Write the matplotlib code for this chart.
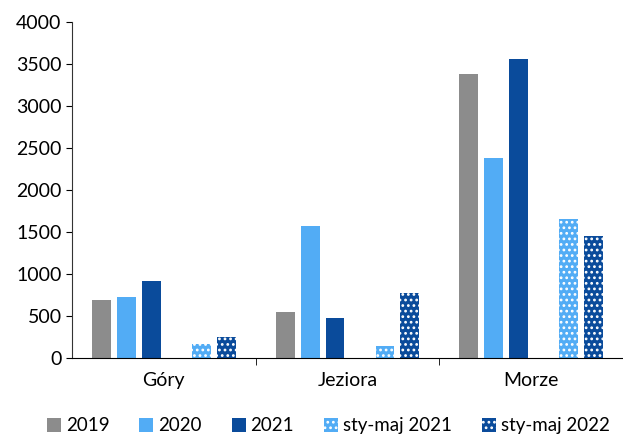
import numpy as np
import matplotlib.pyplot as plt

plt.rcParams['font.family'] = ['Lato', 'DejaVu Sans']
plt.rcParams['hatch.linewidth'] = 1.2

categories = ['Góry', 'Jeziora', 'Morze']
series = ['2019', '2020', '2021', 'sty-maj 2021', 'sty-maj 2022']
v2019 = [690, 548, 3381]
v2020 = [726, 1571, 2381]
v2021 = [917, 476, 3560]
v_sm2021 = [167, 143, 1655]
v_sm2022 = [250, 774, 1452]

values = [v2019, v2020, v2021, v_sm2021, v_sm2022]
colors = ['#8c8c8c', '#52acf5', '#0a4b9b', '#52acf5', '#0a4b9b']
hatches = [None, None, None, '...', '...']
slots = [-2.5, -1.5, -0.5, 1.5, 2.5]

fig = plt.figure(figsize=(6.23, 4.43), dpi=100)
ax = fig.add_axes([0.1156, 0.192, 0.8844, 0.758])

x = np.arange(len(categories))
step = 0.136
width = 0.103
for vals, name, col, h, s in zip(values, series, colors, hatches, slots):
    if h:
        ax.bar(x + s * step, vals, width, color=col, edgecolor='white',
               linewidth=0, hatch=h, label=name)
    else:
        ax.bar(x + s * step, vals, width, color=col, linewidth=0, label=name)

ax.set_xlim(-0.5, 2.5)
ax.set_ylim(0, 4000)
ax.set_yticks(np.arange(0, 4001, 500))
ax.set_xticks(x)
ax.set_xticklabels(categories)
ax.set_xticks([0.5, 1.5, 2.5], minor=True)
ax.tick_params(axis='x', which='major', length=0, pad=10, labelsize=14)
ax.tick_params(axis='x', which='minor', length=5, color='black')
ax.tick_params(axis='y', labelsize=14, length=4)
for sp in ['top', 'right']:
    ax.spines[sp].set_visible(False)
ax.spines['left'].set_color('#333333')

ax.legend(loc='upper center', bbox_to_anchor=(0.465, -0.155), ncol=5, frameon=False,
          fontsize=13.5, handlelength=0.75, handleheight=0.75, handletextpad=0.25,
          columnspacing=1.6, borderaxespad=0)

fig.savefig('out.png', dpi=100)
